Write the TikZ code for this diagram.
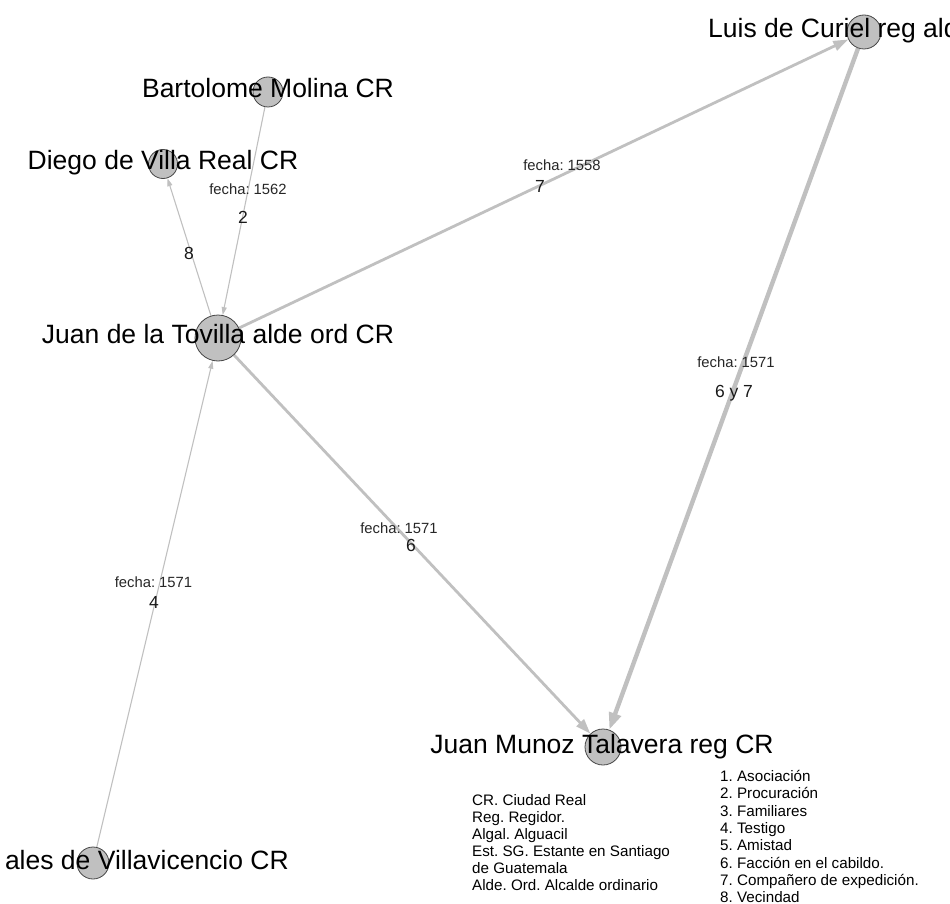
\documentclass[tikz,border=0pt]{standalone}
\usepackage{fontspec}
\setmainfont{Liberation Sans}
\usetikzlibrary{arrows.meta}
\definecolor{edgegray}{RGB}{192,192,192}
\definecolor{nodefill}{RGB}{192,192,192}
\definecolor{nodeline}{RGB}{70,70,70}
\pgfdeclarelayer{edges}
\pgfsetlayers{edges,main}
\frenchspacing

\begin{document}
\begin{tikzpicture}[x=1pt,y=-1pt,
  actor/.style={circle,fill=nodefill,draw=nodeline,line width=0.8pt,
    inner sep=0pt,minimum size=#1},
  actorname/.style={font=\fontsize{26.5}{30}\selectfont,inner sep=0pt,anchor=base},
  datelabel/.style={font=\fontsize{14.8}{17}\selectfont,text=black!85,inner sep=0pt,anchor=base},
  kindlabel/.style={font=\fontsize{17.5}{20}\selectfont,text=black!90,inner sep=0pt,anchor=base},
  legendline/.style={font=\fontsize{15.2}{17}\selectfont,inner sep=0pt,anchor=base west},
  lighttie/.style={draw=edgegray,line width=1.1pt,-{Triangle[length=8pt,width=5pt]}},
  heavytie/.style={draw=edgegray,line width=2.8pt,-{Triangle[length=15pt,width=10pt]}},
  heaviertie/.style={draw=edgegray,line width=4.4pt,-{Triangle[length=17pt,width=12pt]}},
]
\useasboundingbox (0,0) rectangle (950,904);
\clip (0,0) rectangle (950,904);

% actors
\node[actor=34pt] (luis)  at (864,32)  {};
\node[actor=30pt] (bart)  at (268,92)  {};
\node[actor=29pt] (diego) at (163,164) {};
\node[actor=46pt] (tov)   at (218,338) {};
\node[actor=36pt] (munoz) at (603,747) {};
\node[actor=32pt] (villa) at (93,863)  {};

% ties between actors, kept under the circles
\begin{pgfonlayer}{edges}
  \draw[heavytie]   (tov)   -- (luis);
  \draw[heaviertie] (luis)  -- (munoz);
  \draw[heavytie]   (tov)   -- (munoz);
  \draw[lighttie]   (tov)   -- (diego);
  \draw[lighttie]   (bart)  -- (tov);
  \draw[lighttie]   (villa) -- (tov);
\end{pgfonlayer}

% actor names
\node[actorname,anchor=base west] (luisname) at (708,37.5) {Luis de Curiel reg ald};
\node[actorname] (bartname)  at (268,97.5)  {Bartolome Molina CR};
\node[actorname] (diegoname) at (163,170)   {Diego de Villa Real CR};
\node[actorname] (tovname)   at (218,343.5) {Juan de la Tovilla alde ord CR};
\node[actorname] (munozname) at (602,753)   {Juan Munoz Talavera reg CR};
\node[actorname,anchor=base east] (villaname) at (289,869) {ales de Villavicencio CR};

% tie labels
\node[datelabel] (d1) at (562,171) {fecha: 1558};
\node[kindlabel] (k1) at (540,193) {7};
\node[datelabel] (d2) at (736,367) {fecha: 1571};
\node[kindlabel] (k2) at (734,397) {6 y 7};
\node[datelabel] (d3) at (399,533) {fecha: 1571};
\node[kindlabel] (k3) at (411,551) {6};
\node[datelabel] (d4) at (248,195) {fecha: 1562};
\node[kindlabel] (k4) at (243,223) {2};
\node[kindlabel] (k5) at (189,259) {8};
\node[datelabel] (d6) at (153.5,587) {fecha: 1571};
\node[kindlabel] (k6) at (154,608) {4};

% abbreviations
\foreach \t [count=\i from 0] in {CR. Ciudad Real,Reg. Regidor.,Algal. Alguacil,
    Est. SG. Estante en Santiago,de Guatemala,Alde. Ord. Alcalde ordinario}
  \node[legendline] (abbr\i) at (472,805+17*\i) {\t};

% kinds of tie
\foreach \t [count=\i from 0] in {1. Asociación,2. Procuración,3. Familiares,4. Testigo,
    5. Amistad,6. Facción en el cabildo.,7. Compañero de expedición.,8. Vecindad}
  \node[legendline] (kind\i) at (720,781.5+17.3*\i) {\t};
\end{tikzpicture}
\end{document}
